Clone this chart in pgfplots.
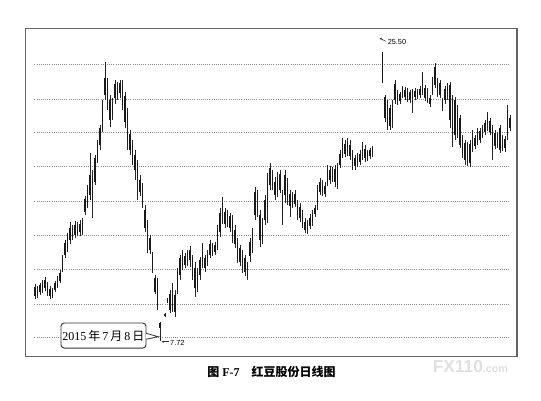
\documentclass[border=0pt]{standalone}
\usepackage{fontspec}
\setmainfont{Liberation Serif}
\setsansfont{Liberation Sans}
\newfontfamily\cjk{Noto Sans CJK SC}
\usepackage{pgfplots}
\pgfplotsset{compat=1.18}
\usepackage{pgfplotstable}
\usetikzlibrary{arrows.meta}

% daily candles: day index, open, high, low, close
\pgfplotstableread{
day open high low close
0 10.49 11.22 10.31 11.04
1 10.55 11.10 10.37 10.92
2 10.74 11.29 10.55 11.16
3 10.86 11.47 10.68 11.29
4 10.98 11.66 10.80 11.47
5 11.16 11.35 10.49 10.68
6 10.92 11.10 10.31 10.49
7 10.86 10.98 10.37 10.49
8 10.86 11.41 10.74 11.29
9 11.10 11.72 10.98 11.54
10 11.41 12.09 11.29 11.91
11 12.09 13.01 11.97 12.83
12 13.01 13.93 12.83 13.75
13 13.44 14.36 13.20 14.17
14 13.93 15.04 13.68 14.67
15 14.67 14.85 13.93 14.11
16 14.23 15.10 14.05 14.85
17 14.79 15.04 14.17 14.29
18 14.42 15.16 14.17 14.91
19 14.54 15.28 14.23 15.04
20 15.65 16.63 15.46 16.45
21 16.08 17.31 15.90 17.13
22 16.69 19.28 16.39 17.93
23 17.74 18.23 15.28 16.39
24 17.50 19.15 17.31 18.97
25 18.85 20.08 18.66 19.89
26 19.77 20.99 19.46 20.81
27 20.81 22.53 20.57 22.04
28 22.84 24.87 22.53 23.89
29 23.64 23.89 21.92 22.22
30 22.53 22.84 20.87 21.30
31 21.61 22.66 21.30 22.41
32 22.66 23.76 22.29 23.52
33 23.39 23.64 22.53 22.84
34 22.97 23.76 22.66 23.58
35 23.45 23.76 21.92 22.22
36 22.78 23.03 20.81 21.18
37 21.80 22.04 19.46 20.08
38 20.44 20.69 19.15 19.46
39 19.77 20.08 18.54 18.85
40 19.15 19.46 17.62 18.23
41 18.66 18.85 16.39 17.74
42 17.62 17.93 16.63 16.88
43 17.19 17.44 15.90 16.08
44 15.77 16.08 14.42 14.67
45 14.91 15.16 13.14 13.93
46 14.05 14.23 13.07 13.32
47 13.01 13.20 11.91 12.09
48 11.60 11.78 10.61 10.74
49 11.35 11.60 9.63 9.93
50 8.83 8.89 7.72 8.52
52 9.26 9.44 9.20 9.38
53 10.12 10.37 10.06 10.31
54 9.63 10.86 9.44 10.61
55 9.75 11.29 9.50 10.86
56 10.55 10.86 9.20 9.50
57 10.86 12.21 10.61 11.97
58 11.78 13.01 11.47 12.83
59 12.39 13.32 12.09 13.07
60 12.39 13.14 12.21 12.95
61 12.58 13.32 12.33 13.14
62 12.70 13.56 12.27 13.32
63 12.83 13.01 11.47 11.72
64 12.21 12.58 10.43 10.98
65 11.16 12.21 10.74 11.97
66 11.78 12.89 11.47 12.70
67 12.39 13.75 12.21 13.20
68 12.83 13.01 11.97 12.21
69 12.58 13.32 12.33 13.07
70 13.01 13.93 12.83 13.68
71 13.07 13.75 12.95 13.56
72 13.20 13.81 13.01 13.62
73 13.56 14.85 13.32 14.54
74 14.42 15.90 14.11 15.59
75 15.16 16.57 14.91 16.20
76 15.65 15.90 14.67 14.91
77 14.91 15.77 14.73 15.53
78 15.40 15.59 14.42 14.67
79 15.22 15.46 13.75 14.05
80 14.54 14.85 13.44 13.68
81 13.81 14.05 12.52 12.83
82 13.44 13.62 12.33 12.58
83 13.14 13.32 11.91 12.21
84 12.83 13.01 11.72 11.97
85 12.39 12.58 11.47 11.72
86 12.95 14.05 12.58 13.81
87 13.44 14.67 13.14 14.42
88 15.46 17.19 15.16 16.88
89 16.69 17.00 15.34 15.65
90 15.46 15.77 13.50 13.93
91 13.93 15.28 13.68 15.04
92 15.16 16.69 14.85 16.39
93 15.77 18.05 14.97 17.74
94 17.31 18.66 17.00 18.36
95 17.99 18.23 17.00 17.25
96 17.50 17.80 16.39 16.69
97 16.88 18.11 16.57 17.87
98 17.00 18.23 16.82 17.99
99 16.69 17.00 14.85 15.46
100 16.69 18.23 16.20 17.93
101 17.44 17.74 16.08 16.39
102 16.76 17.00 15.34 16.02
103 16.08 16.88 15.90 16.63
104 16.76 17.00 15.96 16.14
105 16.14 16.39 15.16 15.46
106 15.96 16.20 15.04 15.28
107 15.59 15.77 14.67 14.91
108 15.04 15.28 14.36 14.54
109 14.91 15.16 14.29 14.48
110 14.79 15.53 14.60 15.28
111 15.04 15.77 14.79 15.53
112 15.53 16.08 15.34 15.90
113 16.08 17.31 15.77 17.00
114 16.88 17.74 16.69 17.50
115 17.37 17.62 16.63 16.88
116 16.76 17.50 16.57 17.25
117 17.44 18.54 17.25 18.23
118 18.23 18.48 17.37 17.62
119 17.68 18.42 17.50 18.17
120 18.29 18.54 17.19 17.50
121 17.31 18.66 17.06 18.42
122 18.54 19.46 18.36 19.22
123 19.15 20.20 18.97 19.89
124 19.83 20.08 19.03 19.22
125 19.34 20.20 19.09 19.95
126 19.77 20.08 18.85 19.09
127 19.22 19.46 18.23 18.54
128 18.48 19.15 18.23 18.97
129 18.66 19.28 18.42 19.03
130 18.72 19.46 18.54 19.22
131 19.09 19.95 18.85 19.71
132 19.52 19.77 18.72 18.97
133 18.97 19.46 18.79 19.34
134 19.09 19.58 18.91 19.46
135 19.22 19.71 19.03 19.58
139 25.48 25.50 23.60 23.64
140 22.72 22.84 21.18 21.43
141 22.22 22.53 20.69 20.99
142 20.93 22.22 20.69 22.04
143 21.18 22.53 20.81 22.29
144 22.53 23.76 22.29 23.52
145 22.97 23.15 22.22 22.41
146 22.47 23.03 22.29 22.90
147 22.78 23.39 22.66 23.27
148 23.15 23.33 22.53 22.72
149 22.60 23.27 22.41 23.09
150 23.03 23.15 22.35 22.53
151 22.66 23.21 21.73 23.09
152 23.09 23.27 22.53 22.72
153 22.78 23.21 22.60 23.09
154 22.84 23.39 22.66 23.21
155 23.03 24.26 22.84 24.01
156 23.27 23.45 22.47 22.66
157 22.53 23.27 22.35 23.09
158 22.66 22.84 22.10 22.29
159 23.03 23.95 22.84 23.76
160 23.45 24.81 23.27 24.56
161 23.70 23.89 22.72 22.90
162 22.84 23.76 22.66 23.58
163 22.47 22.66 21.86 22.04
164 22.53 23.39 22.29 23.21
165 22.78 23.58 22.53 23.39
166 23.45 23.64 20.81 21.30
167 22.66 22.84 19.65 20.69
168 20.38 22.72 20.08 22.53
169 22.04 22.22 20.20 20.38
170 21.43 21.61 19.58 19.77
171 20.20 20.38 18.97 19.15
172 19.89 20.08 18.54 18.85
173 18.72 19.95 18.48 19.77
174 19.83 20.08 18.42 18.66
175 19.52 20.69 19.34 20.08
176 20.20 20.38 19.52 19.71
177 19.95 20.81 19.77 20.63
178 20.08 20.81 19.89 20.63
179 20.32 20.99 20.20 20.81
180 20.57 21.30 20.38 21.12
181 20.81 21.80 20.63 21.55
182 21.24 21.43 20.38 20.57
183 20.81 20.99 18.85 19.46
184 19.71 20.69 19.52 20.51
185 20.38 20.57 19.58 19.77
186 19.46 20.99 19.28 20.81
187 20.20 20.38 19.40 19.58
188 19.58 20.32 19.34 20.14
189 20.38 22.22 20.08 21.92
190 21.43 21.61 20.63 20.81
}\candles

\begin{document}
\begin{tikzpicture}
\begin{axis}[
    scale only axis,
    width=368.3pt,
    height=245.8pt,
    xmin=-3.64, xmax=192.8,
    ymin=6.80, ymax=26.94,
    xtick=\empty, ytick=\empty,
    axis line style={draw=black!60, line width=0.8pt},
]

% dotted price levels
\pgfplotsinvokeforeach{7.95,10.00,12.13,14.22,16.33,18.43,20.52,22.60,24.69}{
    \draw[black!45, densely dotted, line width=0.6pt] (axis cs:-0.2,#1) -- (axis cs:189.6,#1);
}

% wicks
\addplot[draw=none, forget plot,
    error bars/.cd, y dir=plus, y explicit, error mark=none,
    error bar style={draw=black!85, line width=0.5pt}]
    table[x=day, y=low, y error plus expr={\thisrow{high}-\thisrow{low}}] {\candles};

% bodies
\addplot[draw=none, forget plot,
    error bars/.cd, y dir=plus, y explicit, error mark=none,
    error bar style={draw=black!90, line width=1.45pt}]
    table[x=day, y expr={min(\thisrow{open},\thisrow{close})},
          y error plus expr={abs(\thisrow{close}-\thisrow{open})}] {\candles};

% high / low marks
\draw[black!80, line width=0.4pt, -{Stealth[length=2pt,width=1.6pt]}]
    (axis cs:140.4,26.13) -- (axis cs:137.8,26.34);
\node[anchor=west, inner sep=0pt, font=\sffamily\fontsize{5.5}{6}\selectfont]
    at (axis cs:141.0,26.10) {25.50};
\draw[black!80, line width=0.4pt, -{Stealth[length=2pt,width=1.6pt]}]
    (axis cs:53.8,7.68) -- (axis cs:50.6,7.68);
\node[anchor=west, inner sep=0pt, font=\sffamily\fontsize{5.5}{6}\selectfont]
    at (axis cs:54.0,7.62) {7.72};

% date callout
\draw[black!80, line width=0.7pt, rounded corners=2.5pt, fill=white]
    (axis cs:10.4,8.83) rectangle (axis cs:44.4,7.29);
\draw[black!80, line width=0.6pt, fill=white]
    (axis cs:44.4,8.20) -- (axis cs:49.3,7.99) -- (axis cs:44.4,7.83);
\node[font=\fontsize{9}{11}\selectfont] at (axis cs:27.4,8.06)
    {2015\,{\cjk 年}\,7\,{\cjk 月}\,8\,{\cjk 日}};
\end{axis}

\node[font=\bfseries\fontsize{9}{11}\selectfont] at (184.2pt,-11.8pt)
    {{\cjk 图} F-7\quad{\cjk 红豆股份日线图}};
\node[anchor=west, text=black!12, font=\sffamily\bfseries\fontsize{13}{14}\selectfont]
    at (301.6pt,-7.5pt) {FX110\fontsize{8}{9}\selectfont.com};

\path[use as bounding box] (-19.4pt,-33pt) rectangle (386.3pt,267pt);
\end{tikzpicture}
\end{document}
